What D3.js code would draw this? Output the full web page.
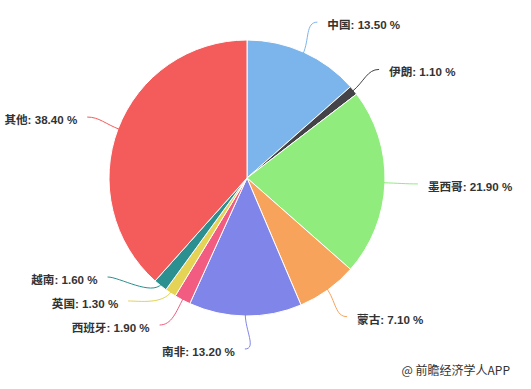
<!DOCTYPE html>
<html>
<head>
<meta charset="utf-8">
<script src="https://cdn.jsdelivr.net/npm/d3@7"></script>
<style>
  html, body { margin: 0; padding: 0; background: #fff; }
  #chart { width: 531px; height: 389px; }
  .label { font-family: "Liberation Sans", "Noto Sans CJK SC", sans-serif; font-size: 11.6px; font-weight: bold; fill: #333; }
  .credit { font-family: "Noto Sans CJK SC", sans-serif; font-size: 12px; fill: #333; }
</style>
</head>
<body>
<div id="chart"></div>
<script>
(function () {

    // --- data (clockwise from 12 o'clock) ---
    const countries = ["中国", "伊朗", "墨西哥", "蒙古", "南非", "西班牙", "英国", "越南", "其他"];
    const shares = [13.5, 1.1, 21.9, 7.1, 13.2, 1.9, 1.3, 1.6, 38.4];
    const colors = ["#7cb5ec", "#434348", "#90ed7d", "#f7a35c", "#8085e9", "#f15c80", "#e4d354", "#2b908f", "#f45b5b"];
    const credit = "@ 前瞻经济学人APP";

    const W = 531, H = 389;
    const cx = 247, cy = 178, radius = 138;
    const labelR = radius + 33;   // where connectors end
    const minGap = 24;            // vertical spacing between stacked labels

    const svg = d3.select("#chart").append("svg")
        .attr("width", W).attr("height", H);

    const g = svg.append("g").attr("transform", `translate(${cx},${cy})`);

    const data = countries.map((c, i) => ({ name: c, value: shares[i], color: colors[i] }));

    const pie = d3.pie().sort(null).value(d => d.value);
    const arcs = pie(data);
    const arc = d3.arc().innerRadius(0).outerRadius(radius);

    // slices
    g.selectAll("path.slice")
        .data(arcs)
        .join("path")
        .attr("class", "slice")
        .attr("d", arc)
        .attr("fill", d => d.data.color)
        .attr("stroke", "#fff")
        .attr("stroke-width", 1);

    // label anchors: ideal point on the outer circle, then push crowded left labels upward
    arcs.forEach(a => {
        a.mid = (a.startAngle + a.endAngle) / 2;
        a.side = Math.sin(a.mid) >= 0 ? 1 : -1;
        a.lx = labelR * Math.sin(a.mid);
        a.ly = -labelR * Math.cos(a.mid);
        a.moved = false;
    });

    [1, -1].forEach(side => {
        const group = arcs.filter(a => a.side === side).sort((a, b) => b.ly - a.ly);
        for (let i = 1; i < group.length; i++) {
            const lim = group[i - 1].ly - minGap;
            if (group[i].ly > lim && group[i].ly > 0) {
                group[i].ly = lim;
                group[i].moved = true;
            }
        }
        group.forEach(a => {
            if (a.moved) {
                const dx = Math.sqrt(Math.max(0, labelR * labelR - a.ly * a.ly));
                a.lx = side * dx;
            }
        });
    });

    // connectors
    g.selectAll("path.conn")
        .data(arcs)
        .join("path")
        .attr("class", "conn")
        .attr("fill", "none")
        .attr("stroke", d => d.data.color)
        .attr("stroke-width", 1)
        .attr("d", d => {
            const x0 = (radius - 2) * Math.sin(d.mid), y0 = -(radius - 2) * Math.cos(d.mid);
            const c1x = (radius + 14) * Math.sin(d.mid), c1y = -(radius + 14) * Math.cos(d.mid);
            const c2x = d.lx - d.side * 12, c2y = d.ly;
            return `M${x0},${y0}C${c1x},${c1y} ${c2x},${c2y} ${d.lx},${d.ly}`;
        });

    // labels
    const fmt = d3.format(".2f");
    g.selectAll("text.label")
        .data(arcs)
        .join("text")
        .attr("class", "label")
        .attr("x", d => d.lx + d.side * 10)
        .attr("y", d => d.ly + 3)
        .attr("dy", "0.35em")
        .attr("text-anchor", d => d.side > 0 ? "start" : "end")
        .text(d => `${d.data.name}: ${fmt(d.data.value)} %`);

    // credit line
    svg.append("text")
        .attr("class", "credit")
        .attr("x", 510)
        .attr("y", 375)
        .attr("text-anchor", "end")
        .text(credit);
})();
</script>
</body>
</html>
